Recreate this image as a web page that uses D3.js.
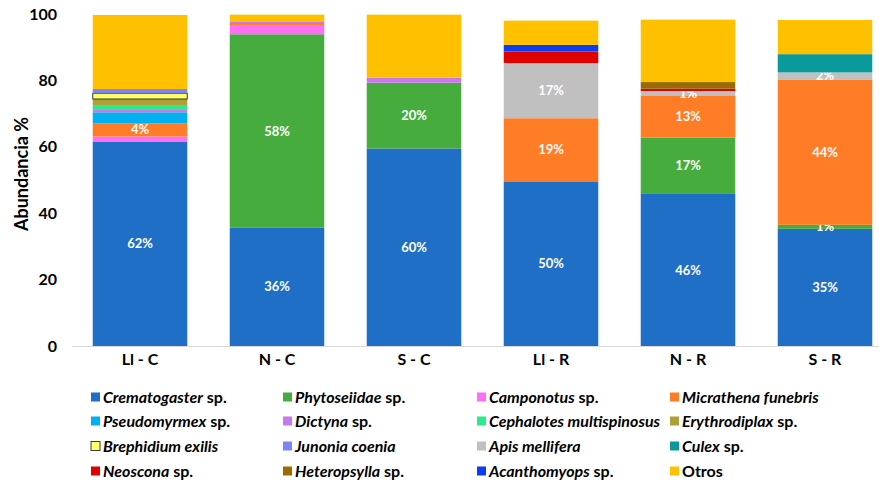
<!DOCTYPE html>
<html>
<head>
<meta charset="utf-8">
<script src="https://cdn.jsdelivr.net/npm/d3@7"></script>
<style>
    body { margin: 0; background: #fff; }
    text { font-family: Lato, "Open Sans", sans-serif; }
</style>
</head>
<body>
<script>
// Categories (sites)
var categories = ["Ll - C", "N - C", "S - C", "Ll - R", "N - R", "S - R"];

// Series names, in stacking / legend order
var seriesNames = [
    "Crematogaster sp.", "Phytoseiidae sp.", "Camponotus sp.", "Micrathena funebris",
    "Pseudomyrmex sp.", "Dictyna sp.", "Cephalotes multispinosus", "Erythrodiplax sp.",
    "Brephidium exilis", "Junonia coenia", "Apis mellifera", "Culex sp.",
    "Neoscona sp.", "Heteropsylla sp.", "Acanthomyops sp.", "Otros"
];

// Abundance % per series (one value per category)
var crematogaster = [61.6, 35.6, 59.5, 49.6, 45.8, 35.3];
var phytoseiidae  = [0, 58.3, 19.8, 0, 17.0, 1.2];
var camponotus    = [1.5, 2.8, 0, 0, 0, 0];
var micrathena    = [4.0, 0.6, 0, 19.0, 12.7, 43.8];
var pseudomyrmex  = [3.3, 0, 0, 0, 0, 0];
var dictyna       = [0.7, 0.5, 1.5, 0, 0, 0];
var cephalotes    = [1.5, 0, 0, 0, 0, 0];
var erythrodiplax = [1.8, 0, 0, 0, 0, 0];
var brephidium    = [1.7, 0, 0, 0, 0, 0];
var junonia       = [1.3, 0, 0, 0, 0, 0];
var apis          = [0, 0, 0, 16.6, 1.3, 2.1];
var culex         = [0, 0, 0, 0, 0, 5.5];
var neoscona      = [0, 0, 0, 3.5, 0.7, 0];
var heteropsylla  = [0, 0, 0, 0, 2.0, 0];
var acanthomyops  = [0, 0, 0, 2.0, 0, 0];
var otros         = [22.3, 2.0, 19.0, 7.3, 18.8, 10.3];

var yTicks = [0, 20, 40, 60, 80, 100];

// Series that carry a % label inside the bar (only when >= 1%)
var labelledSeries = ["Crematogaster sp.", "Phytoseiidae sp.", "Micrathena funebris", "Apis mellifera"];

var seriesValues = [crematogaster, phytoseiidae, camponotus, micrathena, pseudomyrmex, dictyna,
    cephalotes, erythrodiplax, brephidium, junonia, apis, culex, neoscona, heteropsylla,
    acanthomyops, otros];

var colors = {
    "Crematogaster sp.": "#1F6FC6",
    "Phytoseiidae sp.": "#46AC3E",
    "Camponotus sp.": "#FF6EF4",
    "Micrathena funebris": "#FF7D26",
    "Pseudomyrmex sp.": "#00B0F0",
    "Dictyna sp.": "#C878E8",
    "Cephalotes multispinosus": "#2EE88C",
    "Erythrodiplax sp.": "#ADA03A",
    "Brephidium exilis": "#FFFF66",
    "Junonia coenia": "#7C86F2",
    "Apis mellifera": "#C0C0C0",
    "Culex sp.": "#0B9A9C",
    "Neoscona sp.": "#E00000",
    "Heteropsylla sp.": "#9A6B00",
    "Acanthomyops sp.": "#0A3CF0",
    "Otros": "#FFC000"
};

// build table for d3.stack
var table = categories.map(function (c, i) {
    var row = { cat: c };
    seriesNames.forEach(function (s, j) { row[s] = seriesValues[j][i]; });
    return row;
});

var width = 879, height = 489;

var svg = d3.select("body").append("svg")
    .attr("width", width)
    .attr("height", height);

var x = d3.scaleBand()
    .domain(categories)
    .range([71.5, 893.5])
    .paddingInner(0.31)
    .paddingOuter(0.155);

var y = d3.scaleLinear()
    .domain([0, 100])
    .range([346, 14]);

var stacked = d3.stack().keys(seriesNames)(table);

// bars
var layers = svg.append("g")
    .selectAll("g")
    .data(stacked)
    .enter()
    .append("g")
    .attr("fill", function (d) { return colors[d.key]; });

layers.selectAll("rect")
    .data(function (d) { return d.map(function (p) { p.key = d.key; return p; }); })
    .enter()
    .filter(function (d) { return d[1] - d[0] > 0; })
    .append("rect")
    .attr("x", function (d) { return x(d.data.cat); })
    .attr("width", x.bandwidth())
    .attr("y", function (d) { return y(d[1]); })
    .attr("height", function (d) { return y(d[0]) - y(d[1]); })
    .attr("stroke", function (d) { return d.key === "Brephidium exilis" ? "#3a3a3a" : "none"; })
    .attr("stroke-width", 1);

// x axis
var xAxis = svg.append("g")
    .attr("transform", "translate(0,346)")
    .call(d3.axisBottom(x).tickSize(0).tickPadding(8));
xAxis.select(".domain").attr("stroke", "#D9D9D9");
xAxis.selectAll("text")
    .style("font-family", "Lato, sans-serif")
    .style("font-size", "16px")
    .style("font-weight", "bold")
    .attr("fill", "#000");

// y axis
var yAxis = svg.append("g")
    .attr("transform", "translate(72,0)")
    .call(d3.axisLeft(y).tickValues(yTicks).tickSize(0).tickPadding(15));
yAxis.select(".domain").remove();
yAxis.selectAll("text")
    .style("font-family", "Lato, sans-serif")
    .style("font-size", "16px")
    .style("font-weight", "bold")
    .attr("fill", "#000");

// y axis title
svg.append("text")
    .attr("transform", "translate(28,174) rotate(-90)")
    .attr("text-anchor", "middle")
    .style("font-size", "18px")
    .style("font-weight", "bold")
    .text("Abundancia %");

// value labels
layers.filter(function (d) { return labelledSeries.indexOf(d.key) >= 0; })
    .selectAll("text.val")
    .data(function (d) { return d; })
    .enter()
    .filter(function (d) { return d[1] - d[0] >= 1; })
    .append("text")
    .attr("class", "val")
    .attr("x", function (d) { return x(d.data.cat) + x.bandwidth() / 2; })
    .attr("y", function (d) { return (y(d[0]) + y(d[1])) / 2; })
    .attr("dy", "0.35em")
    .attr("text-anchor", "middle")
    .attr("fill", "#fff")
    .style("font-size", "13px")
    .style("font-weight", "bold")
    .text(function (d) { return Math.round(d[1] - d[0]) + "%"; });

// legend
var colX = [91, 283, 477, 670];
var rowY = [397, 421, 446, 471];

var legend = svg.append("g")
    .selectAll("g")
    .data(seriesNames)
    .enter()
    .append("g")
    .attr("transform", function (d, i) {
        return "translate(" + colX[i % 4] + "," + rowY[Math.floor(i / 4)] + ")";
    });

legend.append("rect")
    .attr("x", 0)
    .attr("y", -4.5)
    .attr("width", 9)
    .attr("height", 9)
    .attr("fill", function (d) { return colors[d]; })
    .attr("stroke", function (d) { return d === "Brephidium exilis" ? "#3a3a3a" : "none"; });

legend.append("text")
    .attr("x", 12)
    .attr("dy", "0.35em")
    .style("font-size", "16px")
    .style("font-weight", "bold")
    .each(function (d) {
        var t = d3.select(this);
        if (d === "Otros") {
            t.append("tspan").text(d);
        } else if (d.slice(-4) === " sp.") {
            t.append("tspan").style("font-style", "italic").text(d.slice(0, -4));
            t.append("tspan").text(" sp.");
        } else {
            t.append("tspan").style("font-style", "italic").text(d);
        }
    });
</script>
</body>
</html>
